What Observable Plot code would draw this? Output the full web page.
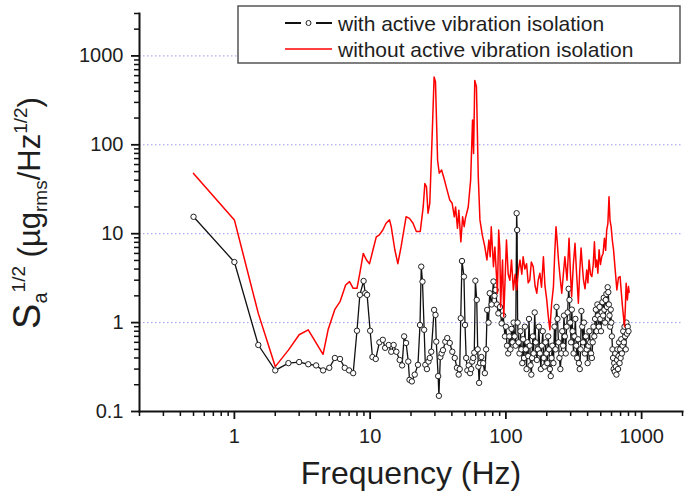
<!DOCTYPE html>
<html><head><meta charset="utf-8">
<script src="https://cdn.jsdelivr.net/npm/d3@7"></script>
<script src="https://cdn.jsdelivr.net/npm/@observablehq/plot@0.6"></script>
<style>body{margin:0;background:#fff;} svg{display:block;}</style>
</head><body><div id="chart"></div>
<script>
// ---- data ----
const withFreq = [0.5,1,1.5,2,2.5,3,3.5,4,4.5,5,5.5,6,6.5,7,7.5,
  8,8.4,8.95,9.2,9.5,10,10.4,11,11.7,12.4,12.9,13.7,14.3,14.9,15.6,16.5,17.2,17.8,18.4,19.1,19.5,20.3,21.3,22.5,23.3,23.8,24.3,25,25.5,26.2,26.9,27.5,28.2,29.6,30.3,30.7,31.7,32.1,32.9,33.6,34.4,35.8,37,38.6,40.3,42,43.6,44.9,45.7,46.5,47.5,49.1,50,51,52,53.2,54.5,55.5,56.5,57.5,58.5,59.6,61,62,62.7,63.5,64.5,66,68,70,71.5,72.8,74.5,76,78.5,81,82.5,84,86,88,90.5,93,95.5,98.5,
  100,102,104,106,108,110,112,114,116,118,120,121,122,124,126,128,130,132,134,136,138,140,142,144,146,148,150,152,154,156,158,160,163,166,169,172,175,178,181,184,187,190,193,196,199,202,205,208,211,214,217,220,224,228,232,236,240,244,248,252,256,260,264,268,272,276,280,285,290,294,298,302,306,310,315,320,325,330,335,340,345,350,355,360,365,370,376,382,388,394,400,406,412,418,424,430,436,442,448,454,460,466,472,478,484,490,496,502,508,514,520,526,532,538,544,550,556,562,568,574,580,586,592,598,604,610,616,622,628,634,640,646,652,658,664,670,676,682,688,694,700,708,716,724,732,740,748,756,764,772,780,790,800];
const withVal = [15.5,4.8,0.56,0.29,0.35,0.36,0.34,0.33,0.29,0.31,0.4,0.39,0.31,0.29,0.27,
  0.81,2.05,2.94,2.14,2.05,0.81,0.41,0.39,0.6,0.64,0.52,0.56,0.47,0.56,0.47,0.38,0.33,0.7,0.59,0.365,0.227,0.218,0.26,0.335,0.94,4.26,2.89,0.83,0.335,0.3,0.365,0.4,0.47,1.39,1.22,0.61,0.25,0.15,0.41,0.45,0.49,0.61,0.67,0.59,0.47,0.4,0.31,0.26,0.3,1.12,4.93,3.29,0.94,0.4,0.29,0.33,0.27,0.3,0.365,0.4,0.46,2.96,1.8,0.5,0.32,0.21,0.35,0.41,0.35,0.27,0.5,1.39,1.0,2.14,1.6,2.9,2.0,2.33,1.6,1.27,1.5,0.98,1.2,0.7,
  0.9,0.55,0.45,0.7,0.5,0.85,0.6,1.0,0.7,0.55,17,11,1.0,0.6,0.45,0.8,0.5,0.35,0.65,0.4,0.9,0.5,0.3,0.6,0.42,1.1,0.55,0.33,0.26,0.4,0.7,0.45,1.3,0.6,0.38,0.5,0.9,0.45,0.3,0.55,0.8,0.4,0.32,0.6,0.45,0.35,0.7,0.5,0.3,0.25,0.4,0.55,0.35,0.9,0.5,1.5,1.1,0.6,0.4,0.3,0.45,0.8,0.55,1.2,0.7,0.45,0.9,1.3,2.4,1.8,1.0,0.6,1.4,0.8,0.45,0.7,1.1,0.55,0.4,0.65,0.35,0.3,0.5,1.35,0.9,0.6,1.0,0.45,0.7,0.5,0.35,0.55,0.8,0.6,0.45,0.4,0.6,0.9,0.7,1.1,1.4,0.8,1.6,1.2,0.9,1.5,1.1,0.8,1.3,1.7,1.2,1.9,1.4,1.0,1.8,2.1,1.5,2.5,2.2,1.6,1.2,0.9,1.4,1.0,0.7,0.5,0.4,0.3,0.35,0.28,0.45,0.32,0.26,0.38,0.5,0.3,0.42,0.6,0.35,0.5,0.4,0.65,0.45,0.55,0.8,0.6,0.9,0.7,0.5,1.0,0.75,0.9,0.8];
const withoutFreq = [0.5,1,1.5,2,2.5,3,3.5,4.5,4.9,5.5,6,6.6,7.05,7.5,8,8.4,8.9,9.4,9.9,10.5,11.1,11.7,12.4,13.1,13.9,14.3,15.2,16,16.9,18.4,19.5,20.7,21.9,23.4,24.6,25.3,26,26.7,27.5,28.5,29.6,30.3,31.4,32.3,33.6,35,36.6,38.6,40.2,41.7,42.6,44,45,46.6,48,49.3,50.3,52.8,55,56.8,57.8,59,60.7,62.6,64.4,67,70,72.5,75,76.6,78,81,83,85.3,86.6,88.5,90.3,91.5,93,94.5,96.5,101,104,107,110,113.5,117,120,124,127,131,134,138,142,146,150,154,159,164,169,173,178,183,189,194,200,205,211,217,224,229,234,239,244,251,258,265,272,282,292,298,305,314,323,332,342,350,358,365,373,383,394,402,410,420,430,440,449,458,467,476,486,497,508,520,532,543,553,564,575,585,596,608,621,638,657,675,694,708,723,748,760,769,785,800,809];
const withoutVal = [47.7,14.3,1.27,0.32,0.49,0.73,0.83,0.44,0.83,1.41,1.72,2.65,2.89,2.43,2.43,3.6,6.0,5.06,4.6,6.6,9.2,9.7,11,13.1,14.3,12,6.6,4.6,7.1,15.5,14.9,13.1,10.6,10.6,20,36.7,33.7,17,22,103,580,510,67,48,52,42,32.4,23.9,22,15.5,20,11.5,18.4,8.1,15.5,12,14.9,20,40,190,80,530,450,44,14.3,9.7,7.1,5.06,8.5,5.5,12,4.26,7.1,3.3,2.14,11,6.6,1.5,3.0,5.06,1.17,8.5,3.5,3.0,5.06,2.33,3.5,2.33,4.0,5.06,3.5,5.5,4.0,4.6,2.8,3.0,4.8,4.26,2.6,2.14,3.0,3.6,2.5,5.5,2.6,1.8,1.2,0.83,1.6,2.54,6,12,8,5.06,3.2,2.14,3.5,5.5,3.0,8.9,4.0,1.96,4.5,7.8,3.5,1.65,3.8,6.9,4.5,3.0,2.4,3.9,2.8,5.06,3.5,3.3,4.5,8.1,4.2,5.06,3.6,6.6,4.5,5.5,6.0,8.9,6.5,11,13,26,14,12,8.5,6.6,4.0,2.33,3.2,3.3,2.2,1.5,0.9,1.6,2.77,1.8,2.54,2.2];
const seriesNames = ["with active vibration isolation", "without active vibration isolation"];
const xTickValues = [1, 10, 100, 1000];
const yTickValues = [0.1, 1, 10, 100, 1000];
const gridValues = [1, 10, 100, 1000];
const xTitle = "Frequency (Hz)";

// minor tick positions (axis decoration)
const xMinor = [], yMinor = [];
for (const d of [0.1, 1, 10, 100, 1000]) for (let k = 2; k <= 9; k++) { const t = d * k; if (t >= 0.2 && t <= 2000) xMinor.push(t); }
for (const d of [0.1, 1, 10, 100, 1000]) for (let k = 2; k <= 9; k++) { const t = d * k; if (t <= 3000) yMinor.push(t); }

const withData = withFreq.map((f, i) => ({f, v: withVal[i]}));
const withoutData = withoutFreq.map((f, i) => ({f, v: withoutVal[i]}));

const font = "'Liberation Sans', Arial, sans-serif";
const ink = "#1e1e1e";
const plot = Plot.plot({
  width: 685, height: 498,
  marginLeft: 139, marginRight: 3, marginTop: 13, marginBottom: 87,
  style: {fontFamily: font, fontSize: "20px", color: ink, background: "#fff"},
  x: {type: "log", domain: [0.2, 2000]},
  y: {type: "log", domain: [0.1, 3000]},
  marks: [
    Plot.ruleY(gridValues, {stroke: "#9a9af0", strokeDasharray: "1.5,2.5", strokeWidth: 1}),
    Plot.axisX({ticks: xMinor, tickSize: 5, tickFormat: () => "", stroke: "#111", strokeWidth: 1.5, label: null}),
    Plot.axisX({ticks: xTickValues, tickSize: 8, tickPadding: 9, tickFormat: d => String(d), stroke: "#111", strokeWidth: 1.8, label: null}),
    Plot.axisY({ticks: yMinor, tickSize: 5, tickFormat: () => "", stroke: "#111", strokeWidth: 1.5, label: null}),
    Plot.axisY({ticks: yTickValues, tickSize: 8, tickPadding: 8, tickFormat: d => String(d), stroke: "#111", strokeWidth: 1.8, label: null}),
    Plot.frame({anchor: "left", strokeWidth: 2, stroke: "#111"}),
    Plot.frame({anchor: "bottom", strokeWidth: 2, stroke: "#111"}),
    Plot.line(withData, {x: "f", y: "v", stroke: "#111", strokeWidth: 1.3}),
    Plot.dot(withData, {x: "f", y: "v", r: 2.7, stroke: "#222", fill: "#fff", strokeWidth: 1}),
    Plot.line(withoutData, {x: "f", y: "v", stroke: "#ff0000", strokeWidth: 1.5}),
    Plot.text([xTitle], {frameAnchor: "bottom", dy: 72, fontSize: 32, fill: ink})
  ]
});
document.getElementById("chart").appendChild(plot);

const svg = d3.select(plot);

// y-axis title with sub/superscripts
const yt = svg.append("text")
  .attr("transform", "translate(40,213) rotate(-90)")
  .attr("text-anchor", "middle")
  .attr("fill", ink)
  .style("font-family", font);
yt.append("tspan").attr("font-size", 38).text("S");
yt.append("tspan").attr("font-size", 20).attr("dy", 7).text("a");
yt.append("tspan").attr("font-size", 19).attr("dy", -22).text("1/2");
yt.append("tspan").attr("font-size", 31).attr("dy", 15).text(" (\u00b5g");
yt.append("tspan").attr("font-size", 19).attr("dy", 7).text("rms");
yt.append("tspan").attr("font-size", 31).attr("dy", -7).text("/Hz");
yt.append("tspan").attr("font-size", 19).attr("dy", -13).text("1/2");
yt.append("tspan").attr("font-size", 31).attr("dy", 13).text(")");

// legend
const lg = svg.append("g").style("font-family", font).attr("text-anchor", "start");
lg.append("rect").attr("x", 238).attr("y", 6).attr("width", 442).attr("height", 57)
  .attr("fill", "#fff").attr("stroke", "#555").attr("stroke-width", 1.5);
lg.append("line").attr("x1", 285).attr("x2", 301).attr("y1", 23).attr("y2", 23).attr("stroke", "#111").attr("stroke-width", 2);
lg.append("line").attr("x1", 316).attr("x2", 332).attr("y1", 23).attr("y2", 23).attr("stroke", "#111").attr("stroke-width", 2);
lg.append("circle").attr("cx", 308.5).attr("cy", 23).attr("r", 2.5).attr("fill", "#fff").attr("stroke", "#222");
lg.append("line").attr("x1", 285).attr("x2", 332).attr("y1", 49).attr("y2", 49).attr("stroke", "#ff0000").attr("stroke-width", 1.5);
lg.selectAll("text.lab").data(seriesNames).join("text").attr("class", "lab")
  .attr("text-anchor", "start")
  .attr("x", 338).attr("y", (d, i) => 30.5 + i * 26).attr("font-size", 21).attr("fill", ink).text(d => d);
</script>
</body></html>
